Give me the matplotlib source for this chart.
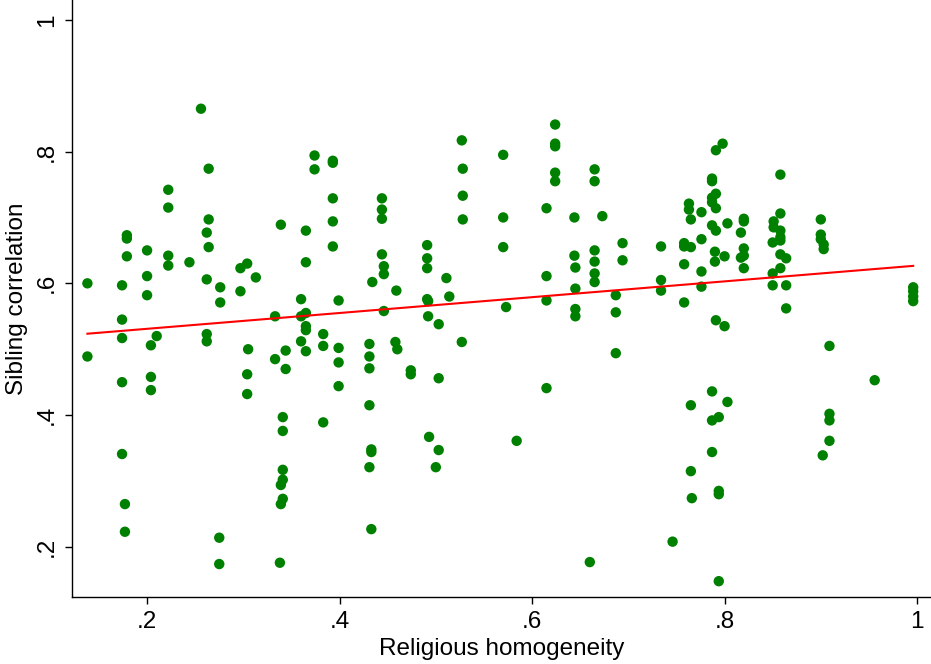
"""
Sibling correlation vs religious homogeneity, Stata-style scatter with fit line.
"""

import numpy as np
import matplotlib.pyplot as plt

# points, grouped by column (x, then y values)
homog = np.array([
    0.138, 0.138,
    0.174, 0.174, 0.174, 0.174, 0.174,
    0.177, 0.177,
    0.179, 0.179, 0.179,
    0.200, 0.200, 0.200,
    0.204, 0.204, 0.204,
    0.210,
    0.222, 0.222, 0.222, 0.222,
    0.244, 0.256,
    0.264, 0.264, 0.264,
    0.262, 0.262, 0.262, 0.262,
    0.276, 0.276, 0.275, 0.275,
    0.297, 0.297,
    0.304, 0.304, 0.304, 0.305, 0.313,
    0.333, 0.333, 0.338,
    0.339, 0.339, 0.339,
    0.341, 0.341, 0.341, 0.341, 0.341,
    0.344, 0.344,
    0.360, 0.360, 0.360,
    0.365, 0.365, 0.365, 0.365, 0.365, 0.365,
    0.374, 0.374,
    0.383, 0.383, 0.383,
    0.393, 0.393, 0.393, 0.393, 0.393,
    0.399, 0.399, 0.399, 0.399,
    0.431, 0.431, 0.431, 0.431, 0.431,
    0.433, 0.433, 0.433, 0.434,
    0.444, 0.444, 0.444, 0.444,
    0.446, 0.446, 0.446,
    0.458, 0.459, 0.460,
    0.474, 0.474,
    0.491, 0.491, 0.491, 0.491,
    0.492, 0.492, 0.493, 0.500,
    0.503, 0.503, 0.503,
    0.511, 0.514,
    0.527, 0.527,
    0.528, 0.528, 0.528,
    0.570, 0.570, 0.570,
    0.573, 0.584,
    0.615, 0.615, 0.615, 0.615,
    0.624, 0.624, 0.624, 0.624, 0.624,
    0.644, 0.644,
    0.645, 0.645, 0.645, 0.645,
    0.660,
    0.665, 0.665, 0.665, 0.665, 0.665, 0.665,
    0.673,
    0.687, 0.687, 0.687,
    0.694, 0.694,
    0.734, 0.734, 0.734,
    0.746,
    0.758, 0.758, 0.758, 0.758,
    0.763, 0.763,
    0.765, 0.765, 0.765, 0.766, 0.765,
    0.776, 0.776, 0.776, 0.776,
    0.787, 0.787, 0.787, 0.787, 0.787, 0.787, 0.787, 0.787,
    0.790, 0.790,
    0.791, 0.791, 0.791, 0.791, 0.791,
    0.794, 0.794, 0.794, 0.794,
    0.798, 0.800, 0.800,
    0.803, 0.803,
    0.817, 0.817,
    0.820, 0.820, 0.820, 0.820, 0.820,
    0.850, 0.850, 0.850,
    0.851, 0.851,
    0.858, 0.858, 0.858, 0.858, 0.858, 0.858, 0.858,
    0.864, 0.864, 0.864,
    0.900, 0.900, 0.900,
    0.903, 0.903, 0.902,
    0.909, 0.909, 0.909, 0.909,
    0.956,
    0.996, 0.996, 0.996, 0.996,
])

sibcorr = np.array([
    0.600, 0.489,
    0.597, 0.545, 0.517, 0.450, 0.341,
    0.265, 0.223,
    0.673, 0.668, 0.641,
    0.650, 0.611, 0.582,
    0.506, 0.458, 0.438,
    0.520,
    0.742, 0.715, 0.642, 0.627,
    0.632, 0.865,
    0.774, 0.697, 0.655,
    0.677, 0.606, 0.523, 0.512,
    0.594, 0.571, 0.214, 0.174,
    0.623, 0.588,
    0.630, 0.462, 0.432, 0.500, 0.609,
    0.550, 0.485, 0.176,
    0.689, 0.294, 0.265,
    0.397, 0.376, 0.317, 0.302, 0.273,
    0.498, 0.470,
    0.576, 0.550, 0.512,
    0.680, 0.632, 0.555, 0.535, 0.529, 0.497,
    0.794, 0.773,
    0.523, 0.505, 0.389,
    0.786, 0.783, 0.729, 0.694, 0.656,
    0.574, 0.502, 0.480, 0.444,
    0.508, 0.489, 0.471, 0.415, 0.321,
    0.348, 0.344, 0.227, 0.602,
    0.729, 0.712, 0.698, 0.644,
    0.626, 0.614, 0.558,
    0.511, 0.589, 0.500,
    0.468, 0.462,
    0.658, 0.638, 0.623, 0.576,
    0.573, 0.550, 0.367, 0.321,
    0.538, 0.456, 0.347,
    0.608, 0.580,
    0.817, 0.511,
    0.774, 0.733, 0.697,
    0.795, 0.700, 0.655,
    0.564, 0.361,
    0.714, 0.611, 0.574, 0.441,
    0.841, 0.812, 0.808, 0.768, 0.755,
    0.700, 0.642,
    0.624, 0.592, 0.561, 0.550,
    0.177,
    0.773, 0.755, 0.650, 0.633, 0.615, 0.602,
    0.702,
    0.582, 0.556, 0.494,
    0.661, 0.635,
    0.656, 0.605, 0.589,
    0.208,
    0.661, 0.656, 0.629, 0.571,
    0.721, 0.712,
    0.697, 0.655, 0.415, 0.274, 0.315,
    0.708, 0.667, 0.618, 0.595,
    0.759, 0.755, 0.730, 0.723, 0.688, 0.436, 0.392, 0.344,
    0.648, 0.633,
    0.802, 0.736, 0.714, 0.680, 0.544,
    0.397, 0.285, 0.280, 0.148,
    0.812, 0.535, 0.641,
    0.691, 0.420,
    0.677, 0.639,
    0.698, 0.694, 0.653, 0.642, 0.623,
    0.662, 0.615, 0.597,
    0.694, 0.685,
    0.765, 0.706, 0.680, 0.670, 0.665, 0.644, 0.623,
    0.638, 0.597, 0.562,
    0.697, 0.674, 0.667,
    0.659, 0.652, 0.339,
    0.505, 0.402, 0.392, 0.361,
    0.453,
    0.594, 0.588, 0.580, 0.573,
])

# linear fit as drawn on the chart
fit_intercept = 0.507
fit_slope = 0.120

x_ticks = [0.2, 0.4, 0.6, 0.8, 1.0]
x_ticklabels = ['.2', '.4', '.6', '.8', '1']
y_ticks = [0.2, 0.4, 0.6, 0.8, 1.0]
y_ticklabels = ['.2', '.4', '.6', '.8', '1']

# PLOTTING
fs = 17.5
plt.rcParams['font.family'] = ['Liberation Sans', 'DejaVu Sans']

fig = plt.figure(figsize=(9.31, 6.64), dpi=100)
ax = fig.add_axes([72/931, 1 - 597/664, 1 - 72/931, 597/664])

ax.scatter(homog, sibcorr, s=56, color='#008000', edgecolors='none', zorder=2)

xfit = np.array([homog.min(), homog.max()])
ax.plot(xfit, fit_intercept + fit_slope*xfit, color='red', lw=1.5, zorder=3)

ax.set_xlim(0.122, 1.0145)
ax.set_ylim(0.124, 1.030)
ax.set_xticks(x_ticks)
ax.set_xticklabels(x_ticklabels)
ax.set_yticks(y_ticks)
ax.set_yticklabels(y_ticklabels, rotation=90, va='center')

for side in ['top', 'right']:
    ax.spines[side].set_visible(False)
for side in ['left', 'bottom']:
    ax.spines[side].set_linewidth(1.0)

ax.tick_params(direction='out', length=5, width=1, labelsize=fs, pad=5)
ax.set_xlabel('Religious homogeneity', fontsize=fs, labelpad=4)
ax.set_ylabel('Sibling correlation', fontsize=fs, labelpad=6)

fig.savefig('out.png', dpi=100)
